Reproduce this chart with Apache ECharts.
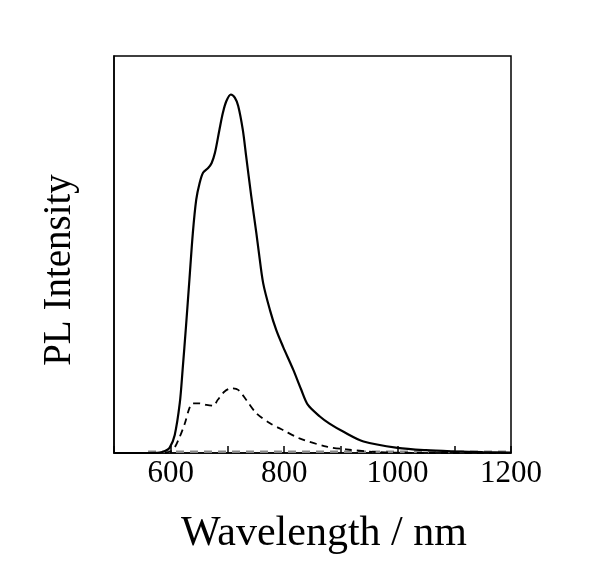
<!DOCTYPE html>
<html>
<head>
<meta charset="utf-8">
<script src="https://cdn.jsdelivr.net/npm/echarts@6/dist/echarts.min.js"></script>
<style>html,body{margin:0;padding:0;background:#fff}#c{width:595px;height:587px}</style>
</head>
<body>
<div id="c"></div>
<script>
var solidX = [500,560,580,590,598,607,616,621,627,633,639,645,651,657,666,672,678,686,692,698,706,713,719,727,733,742,751,755,763,775,786,798,816,830,842,863,880,904,940,1000,1050,1100,1150,1200];
var solidY = [0,0,0.1,0.5,1.3,4.5,12.6,21,32,43.7,55.4,63.8,68,70.6,71.8,73,75.6,81.5,85.7,88.6,90.3,89.5,87.4,81.5,74.8,64.7,55.4,51,42.8,36,31,26.8,21,16,12.1,9.2,7.4,5.4,2.9,1.3,0.7,0.4,0.2,0.1];
var dashX = [590,604,616,625,633,639,651,663,675,683,695,707,719,733,751,775,798,827,875,910,956,1000,1100,1200];
var dashY = [0,0.8,4.1,7.5,11.3,12.5,12.5,12.1,11.9,13.4,15.5,16.3,15.9,13.4,10,7.5,5.8,3.7,1.6,0.9,0.3,0.1,0,0];
var baseX = [560,1200];
var baseY = [0.3,0.3];
var xTicks = [600,800,1000,1200];
var xTitle = 'Wavelength / nm';
var yTitle = 'PL Intensity';

function pairs(xs, ys){ return xs.map(function(x,i){return [x, ys[i]];}); }
var font = '"Liberation Serif","Times New Roman",serif';
var chart = echarts.init(document.getElementById('c'));
chart.setOption({
  animation:false,
  grid:{left:114,right:84,top:56,bottom:134,show:true,borderColor:'#000',borderWidth:1.5,backgroundColor:'transparent'},
  xAxis:{type:'value',min:500,max:1200,interval:100,
    axisLine:{show:true,lineStyle:{color:'#000',width:1.5}},
    axisTick:{show:true,inside:true,length:7,lineStyle:{color:'#000',width:1.5}},
    axisLabel:{margin:5,fontFamily:font,fontSize:31,color:'#000',
      formatter:function(v){return xTicks.indexOf(v)>=0?String(v):'';}},
    splitLine:{show:false}},
  yAxis:{type:'value',min:0,max:100,
    axisLine:{show:true,lineStyle:{color:'#000',width:1.5}},
    axisTick:{show:false},axisLabel:{show:false},splitLine:{show:false}},
  graphic:[
    {type:'text',x:60,y:270,rotation:Math.PI/2,
     style:{text:yTitle,font:'39px '+font,fill:'#000',textAlign:'center',textVerticalAlign:'middle'}},
    {type:'text',x:324,y:534,
     style:{text:xTitle,font:'42px '+font,fill:'#000',textAlign:'center',textVerticalAlign:'middle'}}
  ],
  series:[
    {type:'line',data:pairs(baseX,baseY),showSymbol:false,lineStyle:{color:'#888',width:2.5,type:[8,6]},z:1},
    {type:'line',data:pairs(solidX,solidY),showSymbol:false,smooth:0.3,lineStyle:{color:'#000',width:2.2}},
    {type:'line',data:pairs(dashX,dashY),showSymbol:false,smooth:0.3,lineStyle:{color:'#000',width:1.8,type:[7,5]}}
  ]
});
</script>
</body>
</html>
